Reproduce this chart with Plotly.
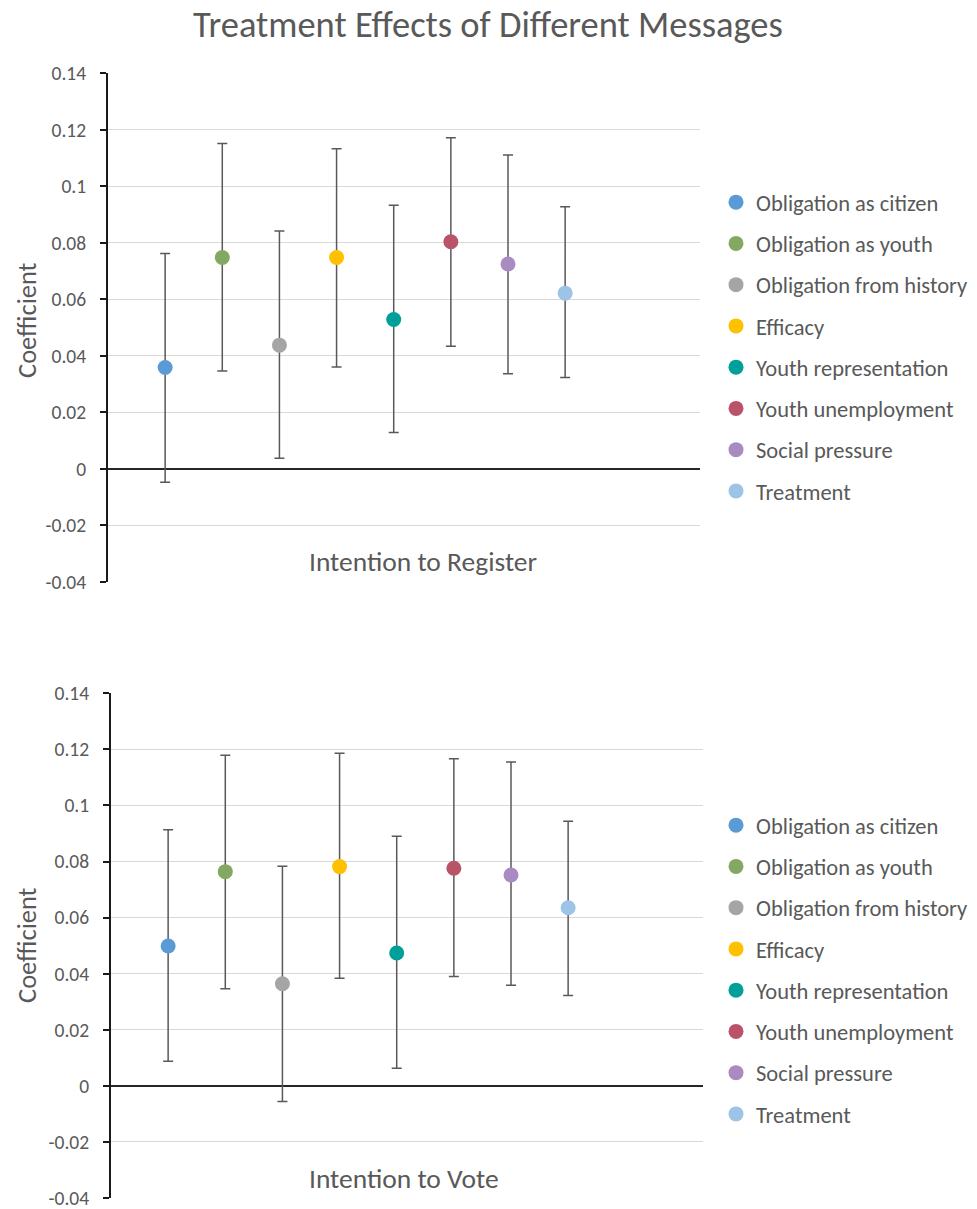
import plotly.graph_objects as go

messages = ["Obligation as citizen", "Obligation as youth", "Obligation from history",
            "Efficacy", "Youth representation", "Youth unemployment",
            "Social pressure", "Treatment"]
colors = ["#5B9BD5", "#82A862", "#A5A5A5", "#FFC000", "#00A09A", "#B95468", "#A98BC2", "#9DC3E6"]

# Intention to Register
reg_coef = [0.0359, 0.0748, 0.0438, 0.0748, 0.0529, 0.0804, 0.0725, 0.0622]
reg_low = [-0.0047, 0.0347, 0.0038, 0.0361, 0.0129, 0.0434, 0.0337, 0.0324]
reg_high = [0.0762, 0.1152, 0.0842, 0.1133, 0.0933, 0.1172, 0.1111, 0.0928]

# Intention to Vote
vote_coef = [0.0499, 0.0764, 0.0364, 0.0782, 0.0474, 0.0776, 0.0752, 0.0635]
vote_low = [0.0088, 0.0346, -0.0056, 0.0384, 0.0063, 0.0390, 0.0359, 0.0322]
vote_high = [0.0913, 0.1179, 0.0783, 0.1186, 0.0890, 0.1167, 0.1155, 0.0944]

tick_vals = [0.14, 0.12, 0.10, 0.08, 0.06, 0.04, 0.02, 0.0, -0.02, -0.04]
tick_text = ["0.14", "0.12", "0.1", "0.08", "0.06", "0.04", "0.02", "0", "-0.02", "-0.04"]

FONT = "Carlito, Lato, 'Open Sans', sans-serif"
TXT = "#595959"
W, H = 977, 1209

fig = go.Figure()

panels = [
    ("x", "y", "legend", reg_coef, reg_low, reg_high),
    ("x2", "y2", "legend2", vote_coef, vote_low, vote_high),
]
for xa, ya, lg, coef, low, high in panels:
    for i, name in enumerate(messages):
        fig.add_trace(go.Scatter(
            x=[i + 1], y=[coef[i]], mode="markers", name=name,
            xaxis=xa, yaxis=ya, legend=lg, legendgroup=lg + str(i),
            marker=dict(size=15, color=colors[i]),
            error_y=dict(type="data", symmetric=False,
                         array=[high[i] - coef[i]], arrayminus=[coef[i] - low[i]],
                         color="#595959", thickness=1.5, width=5),
            hoverinfo="skip",
        ))

def px_x(p):
    return p / W

def px_y(p):
    return 1 - p / H

yaxis_common = dict(
    range=[-0.04, 0.14], tickvals=tick_vals, ticktext=tick_text,
    showgrid=True, gridcolor="#D9D9D9", gridwidth=1.3,
    zeroline=True, zerolinecolor="#262626", zerolinewidth=2,
    showline=True, linecolor="#1a1a1a", linewidth=2,
    ticks="outside", ticklen=6, tickcolor="#1a1a1a", tickwidth=1.5,
    tickfont=dict(family=FONT, size=19.5, color=TXT),
    ticklabelstandoff=10, ticklabeloverflow="allow",
    fixedrange=True, automargin=False,
)
xaxis_common = dict(range=[0, 10.36], showgrid=False, zeroline=False,
                    showline=False, showticklabels=False, ticks="", fixedrange=True,
                    automargin=False)

legend_common = dict(
    font=dict(family=FONT, size=22.5, color=TXT),
    bgcolor="rgba(0,0,0,0)", traceorder="grouped", tracegroupgap=9,
    itemwidth=30, xanchor="left", yanchor="top",
)

def ann(text, x, y, size, angle=0):
    return dict(text=text, x=px_x(x), y=px_y(y), xref="paper", yref="paper",
                xanchor="center", yanchor="middle", showarrow=False, textangle=angle,
                font=dict(family=FONT, size=size, color=TXT))

fig.update_layout(
    width=W, height=H,
    margin=dict(l=0, r=0, t=0, b=0, pad=0, autoexpand=False),
    paper_bgcolor="white", plot_bgcolor="white",
    font=dict(family=FONT, color=TXT),
    xaxis=dict(domain=[px_x(108), px_x(700)], anchor="y", **xaxis_common),
    yaxis=dict(domain=[px_y(582), px_y(73.3)], anchor="x", **yaxis_common),
    xaxis2=dict(domain=[px_x(111), px_x(703)], anchor="y2", **xaxis_common),
    yaxis2=dict(domain=[px_y(1198), px_y(693.3)], anchor="x2", **yaxis_common),
    legend=dict(x=px_x(716), y=px_y(181), **legend_common),
    legend2=dict(x=px_x(716), y=px_y(804), **legend_common),
    annotations=[
        ann("Treatment Effects of Different Messages", 488, 25, 36.5),
        ann("Coefficient", 27, 320, 26.5, -90),
        ann("Coefficient", 27, 945, 26.5, -90),
        ann("Intention to Register", 423, 561, 27.5),
        ann("Intention to Vote", 404, 1178, 27.5),
    ],
)

# page styling only: drop the default body margin so the 977x1209 figure fills the window
fig.write_html(
    "out.html",
    config={"displayModeBar": False},
    post_script="document.body.style.margin='0';document.body.style.overflow='hidden';"
                "document.documentElement.style.overflow='hidden';",
)
